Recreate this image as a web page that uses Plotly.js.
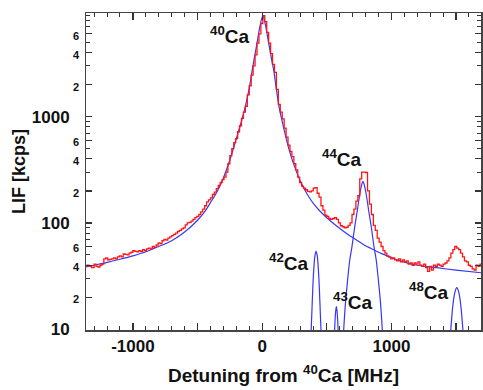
<!DOCTYPE html>
<html>
<head>
<meta charset="utf-8">
<script src="https://cdn.plot.ly/plotly-3.0.1.min.js"></script>
<style>html,body{margin:0;padding:0;background:#fff;}#chart{width:483px;height:390px;}</style>
</head>
<body>
<div id="chart"></div>
<script>
// Measured LIF signal (red)
const measFreq = [-1360,-1340,-1320,-1300,-1285,-1270,-1255,-1240,-1225,-1210,-1195,-1180,-1165,-1150,-1135,-1120,-1105,-1090,-1075,-1060,-1045,-1030,-1015,-1000,-985,-970,-955,-940,-925,-910,-895,-880,-865,-850,-835,-820,-805,-790,-775,-760,-745,-730,-715,-700,-685,-670,-655,-640,-625,-610,-595,-580,-565,-550,-535,-520,-505,-490,-475,-460,-445,-430,-415,-400,-385,-370,-355,-340,-325,-310,-295,-280,-265,-250,-235,-220,-205,-190,-175,-160,-145,-130,-115,-100,-85,-70,-55,-40,-25,-10,5,20,35,50,65,80,95,110,125,140,155,170,185,200,215,230,245,260,275,290,305,320,335,350,365,380,395,410,425,440,455,470,485,500,515,530,545,560,575,590,605,620,635,650,665,680,695,710,725,740,755,770,785,800,815,830,845,860,875,890,905,920,935,950,965,980,995,1010,1025,1040,1055,1070,1085,1100,1115,1130,1145,1160,1175,1190,1205,1220,1235,1250,1265,1280,1295,1310,1325,1340,1355,1370,1385,1400,1415,1430,1445,1460,1475,1490,1505,1520,1535,1550,1565,1580,1595,1610,1625,1640,1655,1670,1685,1700];
const measLIF = [40,39,38,41,39,38.5,40,41,46,47,45,45.5,46,47,46,48,49,48,51,50.5,50,52,53,55,54,53.5,55,54,56,55,57,58,57,60,59,62,65,64,68,70,69,72,74,76,78,80,83,85,88,90,96,100,101,104,108,112,115,120,127,135,145,158,165,172,185,195,210,225,240,255,270,300,360,430,500,570,620,720,820,960,1100,1250,1600,1950,2450,3000,3800,4900,6000,7500,8900,7800,6200,4900,3900,3100,2600,1800,1300,1100,950,780,640,540,470,420,360,315,270,240,222,212,205,198,196,200,212,215,190,175,145,132,118,115,110,108,110,112,108,100,94,92,90,91,95,100,120,135,160,180,260,300,300,298,200,150,120,95,85,72,66,60,55,52,49,48,46,47,45,44,46,43,45,43,44,41,42,40,42,41,43,40,39,41,38,35,39,36,40,39,41,40,39,41,42,44,47,52,56,60,58,56,52,48,44,43,40,39,37,36,40,39,41,40];

// 40Ca fit (blue)
const fitFreq = [-1365,-1300,-1200,-1100,-1000,-900,-800,-700,-600,-500,-450,-400,-350,-300,-250,-200,-170,-130,-100,-80,-60,-40,-20,5,30,50,70,90,110,130,170,206,250,300,350,400,450,500,579,650,707,800,836,900,939,1000,1093,1200,1351,1500,1693];
const fitLIF = [38.5,40,42.5,45.5,49,53.5,60,68,82,106,125,155,195,265,390,620,820,1250,1850,2600,3600,4900,6800,8900,6800,4900,3600,2700,1800,1250,750,500,340,240,185,150,128,112,93,80,72,61,58,53,50.6,47,43,40,37.9,36,34];

// Isotope components (blue)
const ca42Freq = [376,384,392,400,408,417,426,434,442,450,458];
const ca42LIF  = [8,14,25,38,49,54,49,38,25,14,8];
const ca43Freq = [557,563,568,574,580,585,591];
const ca43LIF  = [8,11.5,14.5,16.3,14.5,11.5,8];
const ca44Freq = [625,632,645,661,678,695,715,735,755,770,780,790,805,825,845,865,882,899,915,928,935];
const ca44LIF  = [7,10.5,18,29,45,60,90,128,185,228,246,228,185,128,90,60,45,29,18,10.5,7];
const ca48Freq = [1455,1462,1475,1490,1506,1522,1537,1550,1557];
const ca48LIF  = [8.5,11,16.6,22,24.6,22,16.6,11,8.5];

const yTickVals = [10,20,40,60,100,200,400,600,1000,2000,4000,6000];
const yTickText = ['10','2','4','6','100','2','4','6','1000','2','4','6'];
const yMinorVals = [30,50,70,80,90,300,500,700,800,900,3000,5000,7000,8000,9000];
const xTickVals = [-1000,-500,0,500,1000,1500];
const xTickText = ['-1000','','0','','1000',''];

const labels = [
  {iso:'40', x:0.3633, y:0.930},
  {iso:'44', x:0.649, y:0.542},
  {iso:'42', x:0.5127, y:0.216},
  {iso:'43', x:0.6759, y:0.090},
  {iso:'48', x:0.8684, y:0.1215}
];

const blue = 'rgb(55,55,245)';
const red = 'rgb(255,20,20)';

const traces = [
  {x: fitFreq, y: fitLIF, mode:'lines', line:{color:blue, width:1.2, shape:'spline', smoothing:0.8}},
  {x: ca42Freq, y: ca42LIF, mode:'lines', line:{color:blue, width:1.2, shape:'spline'}},
  {x: ca43Freq, y: ca43LIF, mode:'lines', line:{color:blue, width:1.2, shape:'spline'}},
  {x: ca44Freq, y: ca44LIF, mode:'lines', line:{color:blue, width:1.2, shape:'spline'}},
  {x: ca48Freq, y: ca48LIF, mode:'lines', line:{color:blue, width:1.2, shape:'spline'}},
  {x: measFreq, y: measLIF, mode:'lines', line:{color:red, width:1.3, shape:'hv'}}
];

const fontFam = 'Liberation Sans, Arial, sans-serif';
const bigLabel = s => '<b>' + s + '</b>&nbsp;&nbsp;';
const smallLabel = s => '<span style="font-size:11px"><b>' + s + '</b></span>';

const layout = {
  width: 483, height: 390,
  margin: {l:86, r:2, t:13, b:60},
  paper_bgcolor:'#fff', plot_bgcolor:'#fff',
  showlegend:false,
  font:{family:fontFam, color:'#111'},
  xaxis: {
    range:[-1363,1693],
    tickmode:'array', tickvals:xTickVals, ticktext:xTickText,
    ticks:'inside', ticklen:7, tickwidth:1.2, tickcolor:'#333',
    minor:{ticks:'inside', dtick:100, tick0:0, ticklen:4, tickwidth:1, tickcolor:'#333'},
    showline:true, linecolor:'#444', linewidth:1.5, mirror:'ticks',
    showgrid:false, zeroline:false,
    tickfont:{size:17, family:fontFam, weight:'bold', color:'#111'},
    title:{text:'<b>Detuning from <sup>40</sup>Ca [MHz]</b>', font:{size:19, family:fontFam, color:'#111'}, standoff:14}
  },
  yaxis: {
    type:'log', range:[0.993,3.974],
    tickmode:'array', tickvals:yTickVals,
    ticktext: yTickText.map(t => t.length > 1 ? bigLabel(t) : smallLabel(t)),
    ticks:'inside', ticklen:6, tickwidth:1.2, tickcolor:'#333',
    minor:{ticks:'inside', tickvals:yMinorVals, ticklen:4, tickwidth:1, tickcolor:'#333'},
    showline:true, linecolor:'#444', linewidth:1.5, mirror:'ticks',
    showgrid:false, zeroline:false,
    ticklabelstandoff:2,
    tickfont:{size:17, family:fontFam, color:'#111'},
    title:{text:'<b>LIF [kcps]</b>', font:{size:18, family:fontFam, color:'#111'}, standoff:1}
  },
  annotations: labels.map(l => ({
    xref:'paper', yref:'paper', x:l.x, y:l.y, xanchor:'center', yanchor:'middle', showarrow:false,
    text:'<b><sup>' + l.iso + '</sup>Ca</b>',
    font:{size:19, family:fontFam, color:'#111'}
  }))
};

Plotly.newPlot('chart', traces, layout, {staticPlot:true, displayModeBar:false});
</script>
</body>
</html>
